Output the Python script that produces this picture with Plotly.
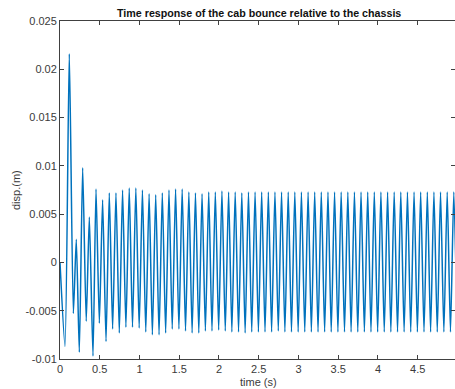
import plotly.graph_objects as go

# Extremum times (s) of the displacement trace
time_s = [0.000, 0.063, 0.117, 0.168, 0.205, 0.243, 0.285, 0.330, 0.369, 0.415,
          0.453, 0.495, 0.536, 0.579, 0.620, 0.662, 0.704, 0.746, 0.787, 0.829,
          0.871, 0.912, 0.954, 0.996, 1.037, 1.079, 1.121, 1.162, 1.204, 1.246,
          1.287, 1.329, 1.371, 1.412, 1.454, 1.496, 1.537, 1.579, 1.621, 1.662,
          1.704, 1.746, 1.787, 1.829, 1.871, 1.912, 1.954, 1.996, 2.037, 2.079,
          2.121, 2.162, 2.204, 2.246, 2.287, 2.329, 2.371, 2.412, 2.454, 2.496,
          2.537, 2.579, 2.621, 2.662, 2.704, 2.746, 2.787, 2.829, 2.871, 2.912,
          2.954, 2.996, 3.037, 3.079, 3.121, 3.162, 3.204, 3.246, 3.287, 3.329,
          3.371, 3.412, 3.454, 3.496, 3.537, 3.579, 3.621, 3.662, 3.704, 3.746,
          3.787, 3.829, 3.871, 3.912, 3.954, 3.996, 4.037, 4.079, 4.121, 4.162,
          4.204, 4.246, 4.287, 4.329, 4.371, 4.412, 4.454, 4.496, 4.537, 4.579,
          4.621, 4.662, 4.704, 4.746, 4.787, 4.829, 4.871, 4.912, 4.954, 4.996]

# Displacement (m) at each extremum
disp_m = [0.0000, -0.0087, 0.0216, -0.0053, 0.0024, -0.0093, 0.0098, -0.0061, 0.0047, -0.0097,
          0.0076, -0.0063, 0.0065, -0.0082, 0.0072, -0.0069, 0.0072, -0.0073, 0.0075, -0.0067,
          0.0077, -0.0067, 0.0077, -0.0068, 0.0075, -0.0072, 0.0071, -0.0075, 0.0070, -0.0075,
          0.0072, -0.0073, 0.0075, -0.0069, 0.0076, -0.0069, 0.0076, -0.0071, 0.0073, -0.0073,
          0.0072, -0.0073, 0.0071, -0.0071, 0.0073, -0.0071, 0.0073, -0.0070, 0.0074, -0.0071,
          0.0073, -0.0072, 0.0073, -0.0072, 0.0072, -0.0073, 0.0073, -0.0072, 0.0073, -0.0072,
          0.0073, -0.0072, 0.0073, -0.0072, 0.0073, -0.0071, 0.0073, -0.0072, 0.0073, -0.0072,
          0.0073, -0.0072, 0.0073, -0.0072, 0.0073, -0.0072, 0.0073, -0.0072, 0.0073, -0.0072,
          0.0073, -0.0072, 0.0073, -0.0072, 0.0073, -0.0072, 0.0073, -0.0072, 0.0073, -0.0072,
          0.0073, -0.0072, 0.0073, -0.0072, 0.0073, -0.0072, 0.0073, -0.0072, 0.0073, -0.0072,
          0.0073, -0.0072, 0.0073, -0.0072, 0.0073, -0.0072, 0.0073, -0.0072, 0.0073, -0.0072,
          0.0073, -0.0072, 0.0073, -0.0072, 0.0073, -0.0072, 0.0073, -0.0072, 0.0073, -0.0072]

x_tick_vals = [0, 0.5, 1, 1.5, 2, 2.5, 3, 3.5, 4, 4.5, 5]
x_tick_text = ["0", "0.5", "1", "1.5", "2", "2.5", "3", "3.5", "4", "4.5", "5"]
y_tick_vals = [-0.01, -0.005, 0, 0.005, 0.01, 0.015, 0.02, 0.025]
y_tick_text = ["-0.01", "-0.005", "0", "0.005", "0.01", "0.015", "0.02", "0.025"]

title_text = "Time response of the cab bounce relative to the chassis"
x_label = "time (s)"
y_label = "disp.(m)"

FONT = "Liberation Sans, Arial, Helvetica, sans-serif"
AX = "#404040"
TXT = "#3a3a3a"

fig = go.Figure()
fig.add_trace(go.Scatter(x=time_s, y=disp_m, mode="lines",
                         line=dict(color="#0072BD", width=1.5, shape="spline", smoothing=0.6),
                         hoverinfo="skip", showlegend=False))

fig.update_layout(
    width=455, height=389,
    margin=dict(l=60, r=0, t=21, b=30),
    paper_bgcolor="white", plot_bgcolor="white",
    font=dict(family=FONT, size=11, color=TXT),
    showlegend=False,
    xaxis=dict(range=[0, 4.969], tickvals=x_tick_vals, ticktext=x_tick_text,
               showgrid=False, zeroline=False, showline=True, linecolor=AX, linewidth=1,
               mirror="ticks", ticks="inside", ticklen=4, tickcolor=AX, tickwidth=1,
               tickfont=dict(size=11, color=TXT)),
    yaxis=dict(range=[-0.01, 0.025], tickvals=y_tick_vals, ticktext=y_tick_text,
               showgrid=False, zeroline=False, showline=True, linecolor=AX, linewidth=1,
               mirror="ticks", ticks="inside", ticklen=4, tickcolor=AX, tickwidth=1,
               tickfont=dict(size=11, color=TXT)),
    annotations=[
        dict(text="<b>" + title_text + "</b>", xref="x", yref="paper", x=2.5, y=1,
             xanchor="center", yanchor="middle", yshift=8, showarrow=False,
             font=dict(size=10.7, color="#111111", family=FONT)),
        dict(text=x_label, xref="x", yref="paper", x=2.5, y=0,
             xanchor="center", yanchor="middle", yshift=-23, showarrow=False,
             font=dict(size=11, color=TXT, family=FONT)),
        dict(text=y_label, xref="paper", yref="paper", x=0, y=0.5,
             xanchor="center", yanchor="middle", xshift=-44, textangle=-90, showarrow=False,
             font=dict(size=11, color=TXT, family=FONT)),
    ],
)

fig.write_html("out.html")
